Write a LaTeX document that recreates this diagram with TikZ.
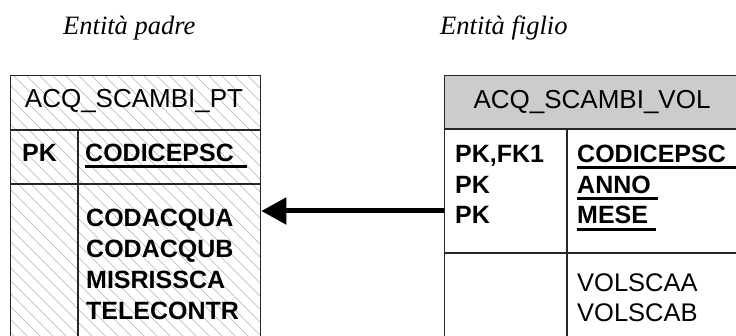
\documentclass[tikz,border=0pt]{standalone}
\usepackage{fontspec}
\setmainfont{Liberation Serif}
\newfontfamily\arialf{Liberation Sans}
\usetikzlibrary{arrows.meta}
\begin{document}
\begin{tikzpicture}[x=1pt,y=-1pt,
  tbl/.style={draw=black!85, line width=1.3pt, inner sep=0pt, anchor=north west},
  sep/.style={draw=black!85, line width=1.3pt},
  ttl/.style={font=\arialf\fontsize{26}{26}\selectfont, inner sep=0pt, anchor=base},
  fld/.style={font=\arialf\fontsize{25.5}{25}\selectfont, inner sep=0pt, anchor=base west},
  bfld/.style={font=\arialf\bfseries\fontsize{25}{25}\selectfont, inner sep=0pt, anchor=base west},
  ul/.style={line width=3pt, black},
  hatch/.style={gray!60, line width=0.55pt},
  lbl/.style={font=\itshape\fontsize{26.5}{26}\selectfont, inner sep=0pt, anchor=base west}]
\useasboundingbox (0,0) rectangle (736,336);
% labels
\node[lbl] (lp) at (63,35) {Entità padre};
\node[lbl] (lf) at (440,35) {Entità figlio};
% left table hatching
\begin{scope}
  \clip (10,75) rectangle (260,340);
  \foreach \i in {-21,...,21} \draw[hatch] (\i*13,75) -- (\i*13+270,345);
\end{scope}
\node[tbl, minimum width=250pt, minimum height=265pt] (lt) at (10,75) {};
\draw[sep] (10,130) -- (260,130);
\draw[sep] (10,184) -- (260,184);
\draw[sep] (78,130) -- (78,340);
\node[ttl] (lttl) at (134,108) {ACQ\_SCAMBI\_PT};
\node[bfld] (lpk) at (22,162) {PK};
\node[bfld] (lcod) at (85,162) {CODICEPSC};
\draw[ul] (85,167) -- (247,167);
\node[bfld] (la1) at (86,227) {CODACQUA};
\node[bfld] (la2) at (86,258) {CODACQUB};
\node[bfld] (la3) at (86,289) {MISRISSCA};
\node[bfld] (la4) at (86,320) {TELECONTR};
% right table
\fill[gray!40] (444,75) rectangle (740,129);
\node[tbl, minimum width=296pt, minimum height=265pt] (rt) at (444,75) {};
\draw[sep] (444,129) -- (740,129);
\draw[sep] (444,253) -- (740,253);
\draw[sep] (567,129) -- (567,340);
\node[ttl] (rttl) at (592,109) {ACQ\_SCAMBI\_VOL};
\node[bfld] (rk1) at (455,163) {PK,FK1};
\node[bfld] (rk2) at (455,194) {PK};
\node[bfld] (rk3) at (455,224) {PK};
\node[bfld] (rf1) at (577,163) {CODICEPSC};
\node[bfld] (rf2) at (577,194) {ANNO};
\node[bfld] (rf3) at (577,224) {MESE};
\draw[ul] (577,168) -- (740,168);
\draw[ul] (577,199) -- (658,199);
\draw[ul] (577,230) -- (656,230);
\node[fld] (rv1) at (577,292) {VOLSCAA};
\node[fld] (rv2) at (577,322) {VOLSCAB};
% relationship arrow
\draw[line width=5pt, -{Triangle[length=25pt,width=26pt]}] (rt.west |- 0,211) -- (lt.east |- 0,211);
\end{tikzpicture}
\end{document}
